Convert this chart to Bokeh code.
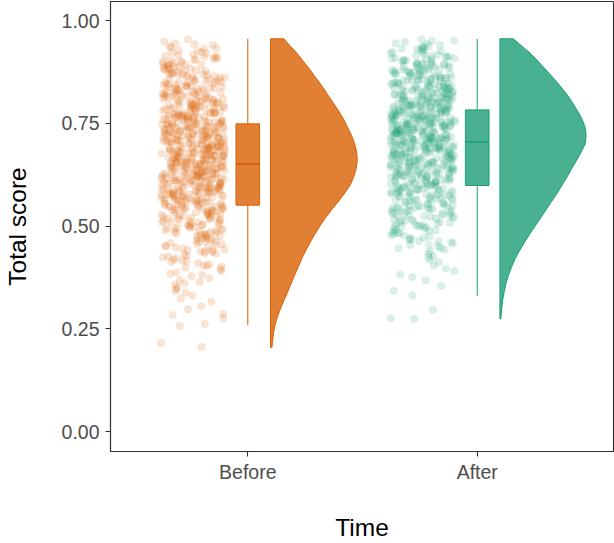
import numpy as np
from bokeh.plotting import figure
from bokeh.models import Range1d, FixedTicker
from bokeh.embed import file_html
from bokeh.resources import INLINE

# ---------------- data ----------------
categories = ["Before", "After"]
colors = ["#D95F02", "#1B9E77"]
y_ticks = [0.0, 0.25, 0.5, 0.75, 1.0]
y_tick_labels = ["0.00", "0.25", "0.50", "0.75", "1.00"]

# total scores (in thousandths)
before_scores = [
    216, 206, 257, 275, 262, 298, 284, 286, 316, 305, 331, 338, 323,
    351, 342, 358, 347, 369, 361, 378, 364, 373, 391, 384, 399, 381, 395, 388,
    410, 401, 416, 407, 419, 404, 413, 434, 421, 437, 428, 424, 439, 431,
    452, 441, 457, 446, 459, 443, 454, 449, 470, 461, 477, 465, 472, 479, 463, 468, 475,
    490, 483, 496, 481, 492, 486, 498, 484, 494, 488,
    509, 500, 514, 503, 517, 507, 512, 502, 519, 505, 510, 515,
    528, 520, 534, 525, 539, 522, 531, 536, 523, 530, 526, 537, 533,
    548, 541, 555, 544, 559, 550, 540, 552, 545, 557, 543, 551, 558, 547, 554,
    569, 561, 575, 564, 578, 570, 560, 573, 566, 577, 562, 571, 579, 565, 574, 567, 576,
    589, 582, 595, 586, 580, 592, 584, 597, 588, 581, 593, 585, 599, 590, 583, 596, 587, 591, 594,
    607, 613, 601, 618, 604, 610, 616, 602, 609, 615, 600, 612, 606, 619, 603, 611, 617, 605, 614, 608,
    631, 624, 638, 620, 627, 635, 622, 629, 636, 625, 633, 621, 639, 628, 623, 634, 626, 637, 630, 632,
    652, 645, 658, 641, 649, 655, 643, 650, 657, 646, 640, 653, 648, 659, 644, 651, 656, 642, 647, 654, 652,
    673, 664, 679, 661, 668, 676, 662, 671, 666, 678, 660, 674, 669, 663, 677, 665, 672, 667, 675, 670, 671,
    688, 681, 695, 684, 699, 690, 683, 693, 686, 680, 697, 689, 682, 694, 685, 691, 698, 687, 692, 696, 684,
    712, 704, 718, 701, 709, 715, 706, 700, 713, 708, 719, 703, 711, 716, 705, 710, 702, 717, 707, 714,
    733, 725, 739, 721, 729, 736, 723, 731, 727, 720, 737, 730, 724, 734, 728, 722, 738, 726, 732, 735,
    749, 742, 756, 745, 740, 753, 747, 758, 743, 751, 746, 755, 741, 750, 757, 744, 752, 748, 754,
    768, 761, 775, 764, 771, 760, 777, 766, 773, 762, 769, 776, 765, 772, 763, 770, 774, 767,
    790, 782, 797, 785, 793, 780, 788, 795, 784, 799, 787, 792, 781, 794, 789, 798,
    810, 803, 817, 806, 800, 813, 808, 819, 804, 815, 801, 811, 807, 818, 814,
    829, 822, 836, 826, 833, 820, 839, 824, 830, 835, 823, 832, 827, 837,
    850, 843, 857, 846, 853, 840, 848, 856, 842, 851, 859, 845, 854,
    870, 862, 877, 866, 873, 861, 868, 879, 864, 875, 872,
    890, 882, 896, 886, 880, 894, 888, 898, 884, 892,
    908, 901, 916, 906, 913, 903, 918, 911,
    928, 921, 935, 924, 938, 932,
    945, 941, 955, 949,
    403, 415, 426, 433, 438, 442, 448, 451, 456, 462, 467, 471, 474, 478,
    482, 485, 489, 491, 495, 497, 501, 504, 508, 511, 513, 516, 518,
    521, 524, 527, 529, 532, 535, 538, 539, 542, 546, 549, 553, 556, 541, 544, 548, 551, 557,
    563, 568, 572, 561, 566, 575, 578, 570, 564, 573, 577, 560,
    583, 591, 586, 598, 581, 594, 589, 584, 596, 587, 592, 580, 595,
    604, 611, 617, 602, 608, 614, 619, 606, 601, 613, 609, 615, 603, 618,
    626, 633, 621, 638, 629, 624, 635, 622, 631, 637, 627, 620, 634, 628,
    647, 641, 655, 650, 658, 643, 652, 645, 657, 640, 649, 654, 642, 656, 646,
    664, 671, 677, 660, 668, 674, 662, 679, 666, 672, 661, 675, 669, 663, 678,
    686, 693, 681, 698, 689, 684, 695, 680, 691, 697, 683, 688, 694, 682, 699,
    707, 713, 701, 718, 704, 710, 716, 702, 709, 715, 700, 712, 706, 719,
    726, 733, 721, 738, 729, 724, 735, 720, 731, 737, 723, 728, 734, 725,
    746, 752, 741, 757, 749, 743, 755, 740, 751, 747, 758, 744, 753,
    767, 773, 761, 778, 764, 770, 776, 762, 769, 775, 765, 772,
    786, 792, 781, 798, 789, 783, 795, 780, 791, 787, 796,
    805, 812, 801, 818, 808, 803, 815, 809, 800, 816,
    825, 831, 821, 838, 828, 823, 834, 827, 836,
    844, 852, 841, 858, 847, 855, 849, 843,
    865, 871, 863, 878, 867, 874, 869,
    885, 891, 883, 897, 887, 893,
    904, 912, 907, 915, 902, 926, 933, 922, 943,
]

after_scores = [
    274, 276, 296, 331, 342, 355, 368, 376, 382, 391, 397, 412, 404, 418,
    433, 424, 438, 427, 451, 443, 458, 446, 454, 472, 463, 478, 466, 475, 461, 469,
    490, 483, 497, 486, 494, 481, 488, 499,
    511, 503, 517, 506, 500, 514, 508, 519, 502, 512,
    531, 524, 538, 521, 534, 527, 539, 523, 530, 536, 526,
    549, 542, 556, 545, 540, 553, 547, 558, 543, 551, 544, 557, 548,
    569, 562, 575, 565, 579, 560, 572, 567, 577, 563, 571, 574, 566, 578,
    589, 582, 596, 585, 592, 580, 598, 587, 594, 583, 590, 597, 586, 581, 593, 588,
    609, 602, 616, 605, 612, 600, 618, 607, 614, 603, 610, 617, 606, 601, 613, 619, 608,
    631, 624, 638, 627, 621, 635, 629, 622, 636, 625, 632, 639, 628, 620, 634, 626, 637, 623, 630,
    652, 645, 658, 641, 649, 655, 643, 650, 657, 646, 640, 653, 648, 659, 644, 651, 656, 642, 647, 654,
    673, 664, 679, 661, 668, 676, 662, 671, 666, 678, 660, 674, 669, 663, 677, 665, 672, 667, 675, 670, 668,
    688, 681, 695, 684, 699, 690, 683, 693, 686, 680, 697, 689, 682, 694, 685, 691, 698, 687, 692, 696, 684, 690, 693,
    712, 704, 718, 701, 709, 715, 706, 700, 713, 708, 719, 703, 711, 716, 705, 710, 702, 717, 707, 714, 709, 712, 703, 716,
    733, 725, 739, 721, 729, 736, 723, 731, 727, 720, 737, 730, 724, 734, 728, 722, 738, 726, 732, 735, 729, 724, 736, 731,
    749, 742, 756, 745, 740, 753, 747, 758, 743, 751, 746, 755, 741, 750, 757, 744, 752, 748, 754, 759, 745, 751, 742, 756,
    768, 761, 775, 764, 771, 760, 777, 766, 773, 762, 769, 776, 765, 772, 763, 770, 774, 767, 778, 779, 764, 771, 768,
    790, 782, 797, 785, 793, 780, 788, 795, 784, 799, 787, 792, 781, 794, 789, 798, 783, 786, 791, 796, 785, 790,
    810, 803, 817, 806, 800, 813, 808, 819, 804, 815, 801, 811, 807, 818, 814, 802, 809, 816, 805, 812,
    829, 822, 836, 826, 833, 820, 839, 824, 830, 835, 823, 832, 827, 837, 821, 828, 834, 825, 838,
    850, 843, 857, 846, 853, 840, 848, 856, 842, 851, 859, 845, 854, 841, 849, 858, 847,
    870, 862, 877, 866, 873, 861, 868, 879, 864, 875, 872, 860, 867, 874, 869,
    890, 882, 896, 886, 880, 894, 888, 898, 884, 892, 881, 887, 895,
    908, 901, 916, 906, 913, 903, 918, 911, 904, 915, 909,
    928, 921, 935, 924, 938, 932, 926, 930,
    945, 941, 955, 949, 952,
    447, 455, 464, 471, 477, 484, 489, 493, 498, 504, 509, 513, 516, 501,
    522, 528, 533, 537, 525, 531, 543, 548, 552, 557, 541, 546, 554,
    563, 568, 573, 577, 561, 566, 571, 579, 584, 588, 593, 597, 581, 586, 591, 595, 599,
    604, 608, 613, 617, 601, 606, 611, 615, 619, 602,
    624, 629, 633, 638, 621, 626, 631, 635, 623, 628, 637,
    643, 648, 653, 657, 641, 646, 651, 655, 659, 644, 649, 652,
    664, 668, 673, 677, 661, 666, 671, 675, 679, 662, 669, 674, 667,
    684, 688, 693, 697, 681, 686, 691, 695, 699, 682, 689, 694, 687, 692,
    704, 708, 713, 717, 701, 706, 711, 715, 719, 702, 709, 714, 707, 712, 705,
    724, 728, 733, 737, 721, 726, 731, 735, 739, 722, 729, 734, 727, 732, 725,
    744, 748, 753, 757, 741, 746, 751, 755, 759, 742, 749, 754, 747, 752, 745,
    764, 768, 773, 777, 761, 766, 771, 775, 779, 762, 769, 774, 767, 772,
    784, 788, 793, 797, 781, 786, 791, 795, 799, 782, 789, 794, 787, 792,
    804, 808, 813, 817, 801, 806, 811, 815, 819, 802, 809, 814, 807,
    824, 828, 833, 837, 821, 826, 831, 835, 839, 822, 829, 834,
    844, 848, 853, 857, 841, 846, 851, 855, 859, 842,
    864, 868, 873, 877, 861, 866, 871, 875, 879,
    884, 888, 893, 897, 881, 886, 891, 895,
    904, 908, 913, 917, 901, 906, 924, 929, 933, 937, 944, 951,
]

# boxplot stats: lower whisker, Q1, median, Q3, upper whisker
before_box = [0.259, 0.551, 0.651, 0.749, 0.956]
after_box = [0.330, 0.599, 0.705, 0.783, 0.956]

# half-violin outline: score level and relative density (1 = widest)
before_density_y = [0.205, 0.22, 0.24, 0.26, 0.28, 0.30, 0.32, 0.34, 0.36, 0.38,
                    0.40, 0.42, 0.44, 0.46, 0.48, 0.50, 0.52, 0.54, 0.56, 0.58,
                    0.60, 0.62, 0.64, 0.66, 0.68, 0.70, 0.72, 0.74, 0.76, 0.78,
                    0.80, 0.82, 0.84, 0.86, 0.88, 0.90, 0.92, 0.94, 0.956]
before_density = [0.017, 0.023, 0.035, 0.052, 0.081, 0.116, 0.156, 0.197, 0.237, 0.277,
                  0.318, 0.358, 0.405, 0.455, 0.510, 0.568, 0.632, 0.705, 0.783, 0.855,
                  0.918, 0.960, 0.988, 1.000, 0.994, 0.971, 0.936, 0.890, 0.844, 0.786,
                  0.723, 0.659, 0.598, 0.526, 0.457, 0.382, 0.309, 0.220, 0.154]
after_density_y = [0.274, 0.28, 0.30, 0.32, 0.34, 0.36, 0.38, 0.40, 0.42, 0.44,
                   0.46, 0.48, 0.50, 0.52, 0.54, 0.56, 0.58, 0.60, 0.62, 0.64,
                   0.66, 0.68, 0.70, 0.72, 0.74, 0.76, 0.78, 0.80, 0.82, 0.84,
                   0.86, 0.88, 0.90, 0.92, 0.94, 0.956]
after_density = [0.009, 0.012, 0.021, 0.032, 0.049, 0.069, 0.098, 0.133, 0.173, 0.225,
                 0.283, 0.341, 0.405, 0.468, 0.532, 0.595, 0.659, 0.717, 0.775, 0.827,
                 0.884, 0.936, 0.983, 0.994, 0.983, 0.948, 0.896, 0.838, 0.775, 0.699,
                 0.618, 0.532, 0.445, 0.355, 0.243, 0.155]

# ---------------- figure ----------------
FONT = "Liberation Sans"
p = figure(width=614, height=543, output_backend="svg", toolbar_location=None,
           x_range=Range1d(0.4015, 2.594), y_range=Range1d(-0.0485, 1.0468),
           min_border_left=110, min_border_right=1, min_border_top=1, min_border_bottom=90)
p.background_fill_color = "white"
p.border_fill_color = "white"
p.xgrid.visible = False
p.ygrid.visible = False
p.outline_line_color = "#333333"
p.outline_line_width = 1.1

half_box = 0.0514
violin_gap = 0.099
violin_max = 0.378
jit_center = -0.238
jit_half = 0.14

groups = [
    (before_scores, before_box, before_density_y, before_density),
    (after_scores, after_box, after_density_y, after_density),
]
for k, (cat, col) in enumerate(zip(categories, colors)):
    scores, box, dy, dd = groups[k]
    c = k + 1
    y = np.array(scores) / 1000.0
    n = len(y)
    i = np.arange(n)
    # deterministic horizontal spread (presentation only)
    u = (i * 0.6180339887 + i * i * 0.0131 + 0.37 * k) % 1.0
    x = c + jit_center + (2 * u - 1) * jit_half
    p.scatter(x, y, size=8, marker="circle", fill_color=col, fill_alpha=0.17,
              line_color=None)

    # whiskers
    p.segment(x0=[c, c], y0=[box[3], box[1]], x1=[c, c], y1=[box[4], box[0]],
              line_color=col, line_width=1)
    # box
    p.quad(left=[c - half_box], right=[c + half_box], bottom=[box[1]], top=[box[3]],
           fill_color=col, fill_alpha=0.8, line_color=col, line_width=1)
    # median
    p.segment(x0=[c - half_box], y0=[box[2]], x1=[c + half_box], y1=[box[2]],
              line_color=col, line_width=1.6)

    # half violin
    base = c + violin_gap
    vx = [base] + list(base + np.array(dd) * violin_max) + [base]
    vy = [dy[0]] + list(dy) + [dy[-1]]
    p.patch(vx, vy, fill_color=col, fill_alpha=0.8, line_color=col, line_width=1)

# axes
p.xaxis.ticker = FixedTicker(ticks=[1, 2])
p.xaxis.major_label_overrides = {i + 1: c for i, c in enumerate(categories)}
p.yaxis.ticker = FixedTicker(ticks=y_ticks)
p.yaxis.major_label_overrides = {t: l for t, l in zip(y_ticks, y_tick_labels)}

for ax in (p.xaxis[0], p.yaxis[0]):
    ax.axis_line_color = "#333333"
    ax.axis_line_width = 1.1
    ax.major_tick_line_color = "#333333"
    ax.major_tick_line_width = 1.1
    ax.major_tick_out = 5
    ax.major_tick_in = 0
    ax.minor_tick_line_color = None
    ax.major_label_text_font = FONT
    ax.major_label_text_font_size = "19.5px"
    ax.major_label_text_color = "#4D4D4D"
    ax.axis_label_text_font = FONT
    ax.axis_label_text_font_size = "24.5px"
    ax.axis_label_text_font_style = "normal"
    ax.axis_label_text_color = "black"

p.xaxis.axis_label = "Time"
p.yaxis.axis_label = "Total score"
p.xaxis.major_label_standoff = 4
p.yaxis.major_label_standoff = 6
p.xaxis.axis_label_standoff = 28
p.yaxis.axis_label_standoff = 28

open("out.html", "w").write(file_html(p, INLINE))
